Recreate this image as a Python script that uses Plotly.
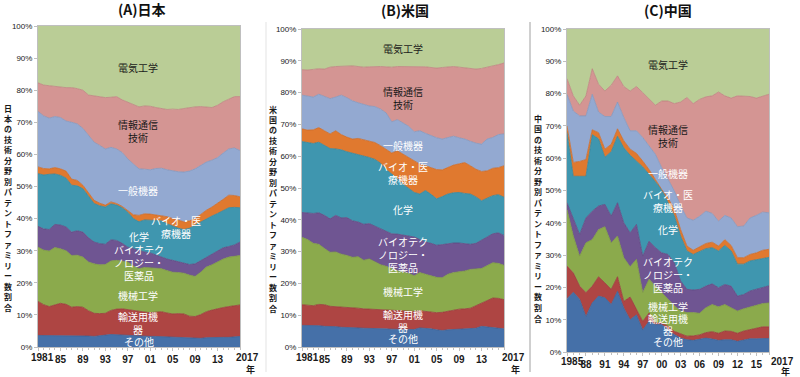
import plotly.graph_objects as go

W, H = 800, 377

# ---------------- data (cumulative share boundaries, %) ----------------
jp_years = list(range(1981, 2018))
us_years = list(range(1981, 2018))
cn_years = list(range(1985, 2018))

categories = ["その他", "輸送用機器", "機械工学", "バイオテクノロジー・医薬品", "化学",
              "バイオ・医療機器", "一般機器", "情報通信技術", "電気工学"]

# Japan: top edge of each stacked band (bottom -> top)
jp_other = [3.6, 3.6, 3.5, 3.6, 3.6, 3.5, 3.4, 3.5, 3.5, 3.4, 3.3, 3.4, 3.7, 3.9, 3.8, 3.6, 3.5, 3.4, 3.3,
            3.3, 3.3, 3.3, 3.2, 3.2, 3.1, 3.0, 2.9, 2.7, 2.6, 2.7, 2.9, 3.0, 3.0, 3.0, 3.0, 3.2, 3.3]
jp_transport = [14.2, 13.2, 12.6, 13.2, 13.6, 13.3, 12.4, 12.6, 12.4, 11.3, 10.5, 10.4, 10.5, 11.4, 11.8, 11.9,
                11.6, 11.3, 11.0, 10.9, 10.7, 10.9, 11.0, 10.6, 10.3, 10.4, 10.3, 9.6, 9.5, 10.1, 11.0, 11.5,
                12.0, 12.3, 12.6, 12.8, 13.1]
jp_mech = [31.1, 30.2, 29.9, 31.0, 30.6, 30.0, 28.5, 28.6, 28.0, 26.5, 25.9, 25.6, 25.7, 26.8, 27.0, 26.8, 26.5,
           25.2, 24.4, 24.8, 24.7, 24.5, 24.4, 23.8, 23.3, 23.2, 23.0, 22.4, 22.0, 23.3, 24.9, 25.6, 26.5, 27.4,
           28.0, 28.2, 28.5]
jp_biotech = [37.6, 36.8, 36.6, 38.2, 38.0, 37.4, 35.8, 36.2, 35.8, 34.0, 32.7, 32.2, 32.0, 33.4, 33.2, 32.3, 31.1,
              30.6, 30.0, 29.6, 29.3, 28.6, 28.0, 27.4, 27.0, 26.6, 26.1, 25.7, 25.9, 26.9, 28.0, 29.0, 30.0, 30.9,
              31.3, 31.8, 32.7]
jp_chem = [54.0, 53.6, 53.8, 53.9, 53.5, 52.6, 50.4, 50.2, 49.3, 46.8, 44.7, 44.0, 43.6, 44.6, 44.2, 43.4, 42.0,
           40.0, 39.0, 39.6, 39.5, 39.3, 39.3, 38.4, 37.6, 37.0, 36.6, 37.0, 38.0, 39.0, 40.0, 40.8, 41.6, 42.6,
           43.4, 43.5, 43.4]
jp_medtech = [56.1, 55.6, 55.5, 55.9, 55.5, 54.8, 52.3, 51.9, 50.4, 48.0, 45.7, 44.8, 44.2, 45.2, 44.7, 43.8, 42.6,
              41.2, 41.0, 41.5, 41.4, 41.2, 41.0, 40.6, 40.0, 39.5, 39.0, 39.3, 40.0, 41.3, 42.6, 43.6, 44.7, 46.0,
              47.3, 47.2, 46.8]
jp_general = [73.4, 72.0, 71.3, 71.8, 71.5, 70.4, 70.0, 69.5, 68.1, 66.0, 63.8, 62.8, 61.7, 62.2, 61.7, 60.6, 58.6,
              57.0, 55.5, 55.4, 55.2, 55.6, 55.7, 55.2, 54.8, 54.6, 54.5, 54.8, 55.5, 56.5, 57.6, 58.2, 59.0, 60.4,
              61.7, 62.0, 61.2]
jp_ict = [82.3, 81.6, 81.4, 81.3, 81.0, 80.8, 80.8, 80.5, 80.0, 78.5, 78.2, 77.9, 77.7, 77.8, 78.0, 77.0, 76.2, 75.4,
          74.8, 75.1, 75.0, 74.6, 74.2, 74.0, 74.1, 74.0, 74.3, 74.6, 74.8, 74.9, 74.7, 74.6, 75.3, 76.4, 77.2,
          78.0, 78.0]

# United States
us_other = [6.8, 6.8, 6.7, 6.7, 6.5, 6.5, 6.4, 6.2, 6.2, 6.0, 6.0, 5.9, 5.9, 5.8, 5.7, 5.7, 5.6, 5.6, 5.5, 5.4,
            5.5, 6.0, 5.9, 5.7, 5.4, 5.2, 5.4, 5.5, 5.6, 5.7, 5.7, 5.9, 6.5, 6.3, 6.1, 6.0, 5.7]
us_transport = [13.3, 13.2, 13.0, 13.4, 13.3, 12.8, 12.7, 12.7, 12.5, 12.3, 12.2, 12.0, 11.9, 11.8, 11.7, 11.6,
                11.6, 11.5, 11.5, 11.4, 11.2, 11.4, 11.2, 11.0, 10.8, 10.9, 11.3, 11.6, 11.9, 12.0, 12.2, 13.0,
                13.8, 14.6, 15.4, 15.3, 14.9]
us_mech = [34.5, 33.8, 32.6, 32.3, 31.0, 29.8, 29.9, 29.2, 28.8, 28.2, 28.4, 27.3, 27.7, 26.8, 25.9, 25.4, 24.6,
           24.0, 23.6, 23.2, 22.4, 23.4, 22.9, 22.3, 21.9, 21.8, 22.9, 23.4, 23.6, 23.9, 24.4, 24.6, 24.7, 25.6,
           26.5, 26.3, 25.7]
us_biotech = [42.3, 42.1, 42.0, 42.2, 41.4, 40.3, 41.4, 40.6, 40.7, 39.7, 39.3, 38.6, 38.8, 38.0, 37.2, 36.2, 35.6,
              35.5, 35.1, 34.9, 34.6, 33.8, 33.0, 32.6, 32.0, 32.2, 32.5, 32.7, 32.7, 32.4, 32.3, 32.6, 33.5, 34.6,
              35.6, 35.9, 35.1]
us_chem = [64.6, 64.4, 64.0, 64.4, 63.4, 62.4, 62.3, 62.0, 61.4, 61.0, 60.4, 60.0, 59.6, 59.0, 57.8, 55.8, 54.4,
           53.0, 51.2, 50.0, 48.6, 48.1, 49.2, 48.0, 46.6, 47.3, 48.1, 48.5, 48.6, 48.3, 48.1, 47.2, 46.0, 46.8,
           47.6, 47.9, 47.1]
us_medtech = [68.6, 68.2, 68.3, 69.0, 68.0, 67.0, 68.0, 66.8, 66.0, 65.4, 65.6, 65.2, 64.8, 64.3, 63.3, 62.2, 61.0,
              61.7, 60.6, 59.6, 58.4, 57.5, 57.0, 56.4, 55.8, 55.7, 56.5, 57.2, 57.6, 58.0, 57.0, 55.9, 55.2, 55.4,
              56.2, 56.4, 57.0]
us_general = [79.2, 79.0, 78.6, 79.5, 78.8, 78.1, 78.6, 79.2, 78.4, 77.4, 76.8, 76.3, 75.8, 75.6, 74.8, 73.6, 70.8,
              71.5, 70.4, 69.4, 67.7, 68.0, 67.2, 66.5, 65.8, 65.4, 65.8, 66.3, 65.8, 65.4, 64.7, 64.1, 63.8, 65.4,
              65.9, 66.8, 67.0]
us_ict = [87.2, 87.1, 87.3, 87.5, 87.4, 88.0, 88.2, 88.3, 88.5, 88.4, 88.2, 88.0, 88.1, 88.2, 88.2, 88.1, 88.0, 88.2,
          88.2, 88.2, 88.1, 88.2, 88.1, 87.9, 87.7, 87.9, 88.1, 88.2, 88.0, 87.8, 87.5, 87.4, 87.6, 88.1, 88.4,
          88.8, 89.3]

# China
cn_other = [16.5, 18.5, 16.3, 11.0, 15.2, 17.3, 16.8, 14.7, 18.8, 13.6, 10.0, 11.5, 6.8, 9.5, 8.5, 8.5, 6.9, 5.4,
            4.3, 3.8, 3.6, 4.0, 4.3, 4.0, 3.6, 3.8, 3.8, 3.3, 3.8, 4.1, 4.1, 4.2, 4.2]
cn_transport = [26.6, 24.5, 20.4, 18.4, 20.4, 23.3, 21.4, 19.4, 23.3, 15.7, 17.0, 13.1, 9.5, 12.1, 9.0, 9.0, 8.0,
                6.4, 5.7, 4.9, 5.0, 5.3, 6.0, 6.3, 5.8, 6.5, 6.4, 5.8, 6.5, 7.0, 7.5, 7.8, 7.8]
cn_mech = [44.1, 35.9, 29.7, 33.8, 34.8, 37.9, 38.8, 33.8, 35.9, 29.2, 26.4, 28.7, 18.4, 22.5, 20.4, 18.4, 16.3,
           14.3, 12.7, 12.2, 12.2, 12.0, 13.7, 14.7, 14.0, 14.7, 13.7, 12.7, 13.4, 14.0, 14.4, 15.0, 15.2]
cn_biotech = [46.2, 41.0, 36.4, 41.5, 43.6, 45.2, 45.7, 42.1, 46.2, 40.0, 36.9, 39.5, 29.7, 34.3, 32.3, 30.7, 30.2,
              27.6, 22.0, 19.4, 19.2, 19.4, 20.4, 21.1, 19.9, 20.9, 20.4, 17.3, 17.8, 18.9, 19.4, 20.0, 20.5]
cn_chem = [68.0, 54.4, 54.4, 54.4, 67.3, 66.0, 60.3, 62.0, 66.8, 63.2, 60.9, 59.1, 57.3, 55.0, 52.7, 50.4, 46.3,
           42.2, 35.9, 31.3, 30.2, 31.0, 32.0, 32.3, 31.3, 33.0, 31.3, 27.2, 27.2, 28.2, 28.6, 29.0, 29.3]
cn_medtech = [70.0, 58.7, 59.0, 59.6, 68.8, 67.9, 62.8, 64.3, 69.1, 65.4, 62.8, 61.5, 59.1, 56.5, 53.4, 50.3, 47.7,
              44.1, 37.9, 32.8, 31.5, 32.6, 33.6, 34.0, 32.8, 34.8, 33.0, 29.2, 29.2, 30.2, 30.7, 31.5, 31.8]
cn_general = [79.8, 74.6, 73.1, 73.1, 79.8, 74.3, 72.9, 72.9, 77.4, 72.6, 68.5, 68.5, 66.4, 63.8, 61.2, 57.1, 53.5,
              49.9, 45.3, 41.5, 40.8, 42.0, 43.6, 42.9, 40.5, 42.3, 41.5, 38.8, 39.0, 41.5, 42.3, 43.3, 43.1]
cn_ict = [84.6, 79.3, 76.4, 79.3, 87.7, 82.9, 80.8, 82.6, 85.5, 82.2, 80.8, 82.2, 80.3, 78.2, 76.4, 77.7, 77.7,
          76.9, 77.4, 78.8, 76.9, 78.2, 79.0, 79.3, 80.5, 79.3, 78.6, 79.3, 79.3, 79.1, 78.6, 79.3, 79.8]

jp_ticks = [1981, 1985, 1989, 1993, 1997, 2001, 2005, 2009, 2013]
jp_ticktext = ["", "85", "89", "93", "97", "01", "05", "09", "13"]
cn_ticks = [1985, 1988, 1991, 1994, 1997, 2000, 2003, 2006, 2009, 2012, 2015]
cn_ticktext = ["", "88", "91", "94", "97", "00", "03", "06", "09", "12", "15"]

fill_colors = ["#4570A8", "#AE4543", "#8BAA4C", "#6F5592", "#3F96AF", "#E0792F", "#93A9D1", "#D49593", "#BACD96"]
line_colors = ["#3A6196", "#973A38", "#7A9740", "#5E4880", "#34849B", "#C9692A", "#8096BD", "#BE817F", "#BACD96"]

CJK = "Noto Sans CJK JP"
LAT = "Liberation Sans"

fig = go.Figure()


def add_panel(years, bounds, xa, ya):
    for i, b in enumerate(bounds):
        fig.add_trace(go.Scatter(
            x=years, y=b, mode="lines", name=categories[i],
            line=dict(color=line_colors[i], width=0.8),
            fill="tozeroy" if i == 0 else "tonexty",
            fillcolor=fill_colors[i], xaxis=xa, yaxis=ya,
            showlegend=False, hoverinfo="skip"))
    fig.add_trace(go.Scatter(
        x=years, y=[100] * len(years), mode="lines", name=categories[-1],
        line=dict(color=fill_colors[-1], width=0), fill="tonexty",
        fillcolor=fill_colors[-1], xaxis=xa, yaxis=ya, showlegend=False, hoverinfo="skip"))


add_panel(jp_years, [jp_other, jp_transport, jp_mech, jp_biotech, jp_chem, jp_medtech, jp_general, jp_ict], "x", "y")
add_panel(us_years, [us_other, us_transport, us_mech, us_biotech, us_chem, us_medtech, us_general, us_ict], "x2", "y2")
add_panel(cn_years, [cn_other, cn_transport, cn_mech, cn_biotech, cn_chem, cn_medtech, cn_general, cn_ict], "x3", "y3")


def px(x0, x1):
    return [x0 / W, x1 / W]


def py(top, bottom):
    return [1 - bottom / H, 1 - top / H]


axis_common = dict(showline=True, mirror=True, linecolor="#BFBFBF", linewidth=1, showgrid=False,
                   zeroline=False, automargin=False)
ycommon = dict(axis_common, range=[0, 100], tickvals=list(range(0, 101, 10)),
               ticktext=[f"{v}%" for v in range(0, 101, 10)], ticks="outside", ticklen=3,
               tickcolor="#BFBFBF", tickfont=dict(family=LAT, size=8, color="#1a1a1a"))
xcommon = dict(axis_common, ticks="outside", ticklen=3, tickcolor="#BFBFBF", tickangle=0,
               tickfont=dict(family=LAT, size=10, color="#1a1a1a", weight="bold"))

fig.update_layout(
    template="none",
    width=W, height=H, margin=dict(l=0, r=0, t=0, b=0),
    paper_bgcolor="white", plot_bgcolor="white",
    xaxis=dict(xcommon, domain=px(38, 240), range=[1981, 2017], tickvals=jp_ticks, ticktext=jp_ticktext,
               anchor="y", minor=dict(dtick=1, tick0=1981, ticks="outside", ticklen=2, tickcolor="#BFBFBF")),
    yaxis=dict(ycommon, domain=py(26, 347), anchor="x"),
    xaxis2=dict(xcommon, domain=px(302, 504), range=[1981, 2017], tickvals=jp_ticks, ticktext=jp_ticktext,
                anchor="y2", minor=dict(dtick=1, tick0=1981, ticks="outside", ticklen=2, tickcolor="#BFBFBF")),
    yaxis2=dict(ycommon, domain=py(29, 347), anchor="x2"),
    xaxis3=dict(xcommon, domain=px(567, 769), range=[1985, 2017], tickvals=cn_ticks, ticktext=cn_ticktext,
                anchor="y3", minor=dict(dtick=1, tick0=1985, ticks="outside", ticklen=2, tickcolor="#BFBFBF")),
    yaxis3=dict(ycommon, domain=py(29, 352), anchor="x3"),
)

ann = []


def paper_text(x, y, text, size, color="#1a1a1a", family=CJK, weight="normal"):
    ann.append(dict(x=x / W, y=1 - y / H, xref="paper", yref="paper", text=text, showarrow=False,
                    xanchor="center", yanchor="middle", font=dict(family=family, size=size, color=color,
                                                                  weight=weight)))


def data_text(xa, ya, x, y, text, color="white", size=10):
    ann.append(dict(x=x, y=y, xref=xa, yref=ya, text=text, showarrow=False, xanchor="center",
                    yanchor="middle", font=dict(family=CJK, size=size, color=color)))


# titles
paper_text(142, 9, "(A)日本", 14, "#111111", CJK, "bold")
paper_text(405, 10, "(B)米国", 14, "#111111", CJK, "bold")
paper_text(668, 10, "(C)中国", 14, "#111111", CJK, "bold")

# vertical axis titles (upright stacked characters)
for cx, top, bottom, t in [(8, 108, 307, "日本の技術分野別パテントファミリー数割合"),
                           (273, 109, 308, "米国の技術分野別パテントファミリー数割合"),
                           (538, 118, 318, "中国の技術分野別パテントファミリー数割合")]:
    step = (bottom - top) / (len(t) - 1)
    for k, ch in enumerate(t):
        paper_text(cx, top + k * step, ch, 8, "#1a1a1a", CJK, "bold")

# first / last year tick labels and unit
for x, y, t in [(42, 357, "1981"), (307, 357, "1981"), (572, 361, "1985")]:
    paper_text(x, y, t, 10, "#1a1a1a", LAT, "bold")
for x, y, yx, yy in [(247, 357, 250, 369), (513, 357, 515, 369), (782, 361, 785, 371)]:
    paper_text(x, y, "2017", 10, "#1a1a1a", LAT, "bold")
    paper_text(yx, yy, "年", 9, "#1a1a1a", CJK, "bold")

# panel A labels
data_text("x", "y", 1998.8, 87.2, "電気工学", "#1a1a1a")
data_text("x", "y", 1998.8, 67.3, "情報通信<br>技術", "#1a1a1a")
data_text("x", "y", 1998.8, 48.9, "一般機器")
data_text("x", "y", 2005.6, 37.5, "バイオ・医<br>療機器")
data_text("x", "y", 1999.0, 34.3, "化学")
data_text("x", "y", 1999.0, 26.2, "バイオテク<br>ノロジー・<br>医薬品")
data_text("x", "y", 1998.8, 15.9, "機械工学")
data_text("x", "y", 1998.8, 7.6, "輸送用機<br>器")
data_text("x", "y", 1999.0, 1.6, "その他")

# panel B labels
data_text("x2", "y2", 1999.0, 94.0, "電気工学", "#1a1a1a")
data_text("x2", "y2", 1999.0, 78.3, "情報通信<br>技術", "#1a1a1a")
data_text("x2", "y2", 1999.0, 63.5, "一般機器")
data_text("x2", "y2", 1999.0, 54.6, "バイオ・医<br>療機器")
data_text("x2", "y2", 1999.0, 43.1, "化学")
data_text("x2", "y2", 1999.0, 29.2, "バイオテク<br>ノロジー・<br>医薬品")
data_text("x2", "y2", 1999.0, 17.3, "機械工学")
data_text("x2", "y2", 1999.0, 8.2, "輸送用機<br>器")
data_text("x2", "y2", 1999.0, 2.8, "その他")

# panel C labels
data_text("x3", "y3", 2001.0, 88.9, "電気工学", "#1a1a1a")
data_text("x3", "y3", 2001.0, 66.9, "情報通信<br>技術", "#1a1a1a")
data_text("x3", "y3", 2001.0, 55.4, "一般機器")
data_text("x3", "y3", 2001.0, 46.7, "バイオ・医<br>療機器")
data_text("x3", "y3", 2001.0, 37.8, "化学")
data_text("x3", "y3", 2001.0, 24.1, "バイオテク<br>ノロジー・<br>医薬品")
data_text("x3", "y3", 2001.0, 14.0, "機械工学")
data_text("x3", "y3", 2001.0, 10.5, "輸送用機")
data_text("x3", "y3", 2001.0, 6.8, "器")
data_text("x3", "y3", 2001.0, 3.3, "その他")

fig.update_layout(annotations=ann)

# separators between panels
fig.add_shape(type="line", xref="paper", yref="paper", x0=266 / W, x1=266 / W, y0=1 - 372 / H, y1=1 - 22 / H,
              line=dict(color="#E3E3E3", width=1))
fig.add_shape(type="line", xref="paper", yref="paper", x0=530 / W, x1=530 / W, y0=1 - 372 / H, y1=1 - 22 / H,
              line=dict(color="#A0A0A0", width=1))

fig.write_html("out.html", config={"displayModeBar": False},
               post_script="document.body.style.margin='0px';document.body.style.overflow='hidden';")
